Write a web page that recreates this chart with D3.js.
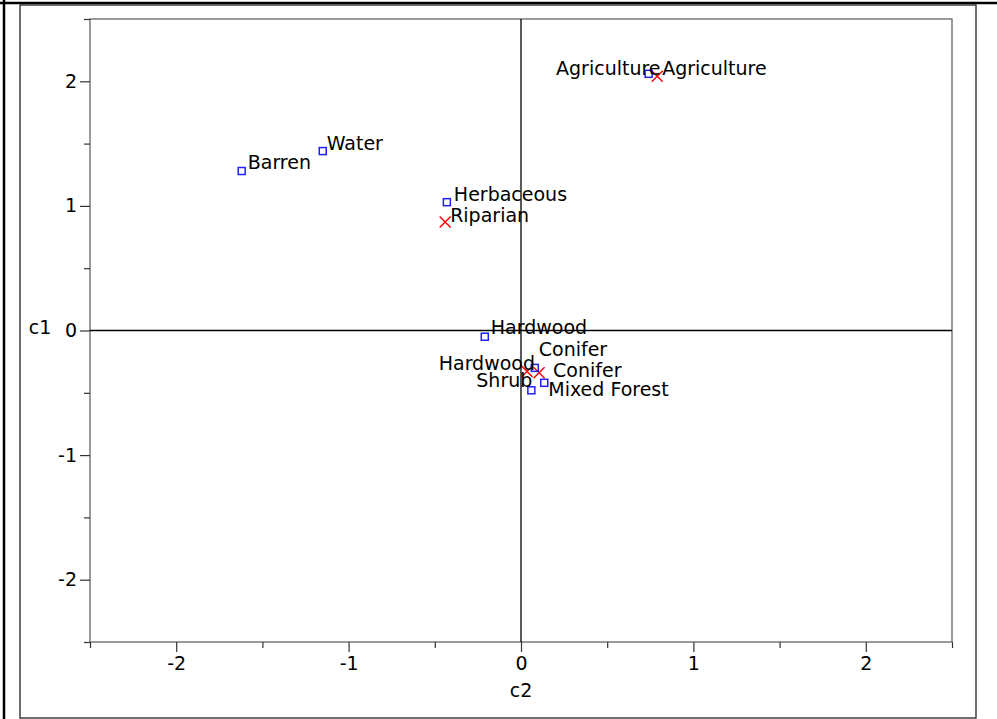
<!DOCTYPE html>
<html>
<head>
<meta charset="utf-8">
<script src="https://cdn.jsdelivr.net/npm/d3@7"></script>
<style>
body { margin: 0; background: #fff; }
svg { display: block; }
text { font-family: "DejaVu Sans", sans-serif; fill: #000; }
</style>
</head>
<body>
<svg width="997" height="719"></svg>
<script>

// row points (blue squares)
var rowNames = ["Agriculture", "Barren", "Conifer", "Hardwood", "Herbaceous", "Mixed Forest", "Shrub", "Water"]
var rowC2 = [0.74, -1.62, 0.08, -0.21, -0.43, 0.135, 0.06, -1.15]
var rowC1 = [2.06, 1.28, -0.30, -0.05, 1.03, -0.42, -0.48, 1.44]

// column points (red crosses)
var colNames = ["Agriculture", "Conifer", "Hardwood", "Riparian"]
var colC2 = [0.79, 0.105, 0.035, -0.44]
var colC1 = [2.04, -0.34, -0.33, 0.87]

var majorTicks = [-2, -1, 0, 1, 2]
var minorTicks = [-2.5, -1.5, -0.5, 0.5, 1.5, 2.5]

// label placement (offset from the point, anchor)
var rowLabelPos = [[12, 1, "end"], [6, -2, "start"], [4, -12, "start"], [6, -3, "start"],
                   [7, -1, "start"], [4, 13, "start"], [1, -3, "end"], [4, -1, "start"]]
var colLabelPos = [[5, -1, "start"], [14, 4, "start"], [8, -2, "end"], [5, 0, "start"]]

var fontSize = "19px"

var svg = d3.select("svg")

// outer page frame
svg.append("line").attr("x1", 0).attr("x2", 997).attr("y1", 3).attr("y2", 3)
    .attr("stroke", "#000").attr("stroke-width", 2.5)
svg.append("line").attr("x1", 4).attr("x2", 4).attr("y1", 0).attr("y2", 719)
    .attr("stroke", "#000").attr("stroke-width", 2.5)
svg.append("rect").attr("x", 20).attr("y", 5).attr("width", 956).attr("height", 713)
    .attr("fill", "none").attr("stroke", "#222").attr("stroke-width", 1.3)

var plotLeft = 90, plotRight = 952, plotTop = 19, plotBottom = 642

var x = d3.scaleLinear().domain([-2.5, 2.5]).range([plotLeft, plotRight])
var y = d3.scaleLinear().domain([-2.5, 2.5]).range([plotBottom, plotTop])

// plot frame
svg.append("rect").attr("x", plotLeft).attr("y", plotTop)
    .attr("width", plotRight - plotLeft).attr("height", plotBottom - plotTop)
    .attr("fill", "none").attr("stroke", "#666").attr("stroke-width", 1.3)

// reference lines through zero
svg.append("line").attr("x1", x(0)).attr("x2", x(0)).attr("y1", plotTop).attr("y2", plotBottom)
    .attr("stroke", "#000").attr("stroke-width", 1.3)
svg.append("line").attr("x1", plotLeft).attr("x2", plotRight).attr("y1", y(0)).attr("y2", y(0))
    .attr("stroke", "#000").attr("stroke-width", 1.3)

function styleAxis(g) {
    g.select(".domain").remove()
    g.selectAll(".tick line").attr("stroke", "#333").attr("stroke-width", 1.2)
    g.selectAll(".tick text").style("font-family", "DejaVu Sans").style("font-size", fontSize).attr("fill", "#000")
}

svg.append("g").attr("transform", "translate(0," + plotBottom + ")")
    .call(d3.axisBottom(x).tickValues(majorTicks).tickSize(10).tickPadding(5)
        .tickFormat(function (d) { return String(d) }))
    .call(styleAxis)
svg.append("g").attr("transform", "translate(0," + plotBottom + ")")
    .call(d3.axisBottom(x).tickValues(minorTicks).tickSize(6).tickFormat(""))
    .call(styleAxis)

svg.append("g").attr("transform", "translate(" + plotLeft + ",0)")
    .call(d3.axisLeft(y).tickValues(majorTicks).tickSize(10).tickPadding(3)
        .tickFormat(function (d) { return String(d) }))
    .call(styleAxis)
svg.append("g").attr("transform", "translate(" + plotLeft + ",0)")
    .call(d3.axisLeft(y).tickValues(minorTicks).tickSize(6).tickFormat(""))
    .call(styleAxis)

// axis titles
svg.append("text").attr("x", 40).attr("y", 334).attr("text-anchor", "middle")
    .style("font-size", fontSize).text("c1")
svg.append("text").attr("x", x(0)).attr("y", 697).attr("text-anchor", "middle")
    .style("font-size", fontSize).text("c2")

var rows = rowNames.map(function (n, i) { return { name: n, c2: rowC2[i], c1: rowC1[i], pos: rowLabelPos[i] } })
var cols = colNames.map(function (n, i) { return { name: n, c2: colC2[i], c1: colC1[i], pos: colLabelPos[i] } })

// red crosses
var cross = svg.append("g").selectAll("g").data(cols).enter().append("g")
    .attr("transform", function (d) { return "translate(" + x(d.c2) + "," + y(d.c1) + ")" })
cross.append("path").attr("d", "M-5.5,-5.5L5.5,5.5M-5.5,5.5L5.5,-5.5")
    .attr("stroke", "#ff0000").attr("stroke-width", 1.4).attr("fill", "none")

// blue squares
svg.append("g").selectAll("rect").data(rows).enter().append("rect")
    .attr("x", function (d) { return x(d.c2) - 3.5 })
    .attr("y", function (d) { return y(d.c1) - 3.5 })
    .attr("width", 7).attr("height", 7)
    .attr("fill", "none").attr("stroke", "#2020ff").attr("stroke-width", 1.5)

// labels
var labels = rows.concat(cols)
svg.append("g").selectAll("text").data(labels).enter().append("text")
    .attr("x", function (d) { return x(d.c2) + d.pos[0] })
    .attr("y", function (d) { return y(d.c1) + d.pos[1] })
    .attr("text-anchor", function (d) { return d.pos[2] })
    .style("font-size", fontSize)
    .text(function (d) { return d.name })

</script>
</body>
</html>
